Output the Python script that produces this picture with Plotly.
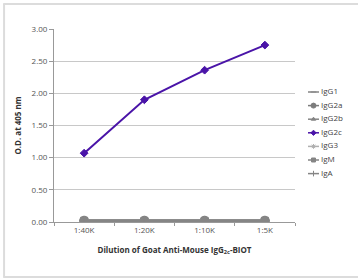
import plotly.graph_objects as go

categories = ["1:40K", "1:20K", "1:10K", "1:5K"]
igg2c = [1.07, 1.90, 2.36, 2.75]
igg1 = [0.02, 0.02, 0.02, 0.02]
igg2a = [0.02, 0.02, 0.02, 0.02]
igg2b = [0.02, 0.02, 0.02, 0.02]
igg3 = [0.02, 0.02, 0.02, 0.02]
igm = [0.02, 0.02, 0.02, 0.02]
iga = [0.02, 0.02, 0.02, 0.02]
series_names = ["IgG1", "IgG2a", "IgG2b", "IgG2c", "IgG3", "IgM", "IgA"]
y_ticks = [0, 0.5, 1.0, 1.5, 2.0, 2.5, 3.0]

gray = "#858585"
purple = "#4a14a8"

values = [igg1, igg2a, igg2b, igg2c, igg3, igm, iga]
styles = {
    "IgG1": (gray, "line-ew-open", 7),
    "IgG2a": ("#7c7c7c", "circle", 9),
    "IgG2b": (gray, "triangle-up", 7),
    "IgG2c": (purple, "diamond", 6),
    "IgG3": ("#b0b0b0", "asterisk-open", 6),
    "IgM": (gray, "square", 7),
    "IgA": (gray, "line-ns-open", 6),
}

fig = go.Figure()
# main plot: gray series first, IgG2c on top
draw_order = [n for n in series_names if n != "IgG2c"] + ["IgG2c"]
for name in draw_order:
    vals = values[series_names.index(name)]
    col, sym, sz = styles[name]
    fig.add_trace(go.Scatter(
        x=categories, y=vals, name=name, mode="lines+markers",
        line=dict(color=col, width=2 if name == "IgG2c" else 2.5),
        marker=dict(symbol=sym, size=sz, color=col, line=dict(color=col, width=1)),
        showlegend=False, xaxis="x", yaxis="y",
    ))

# custom compact legend on a helper axis (units ~ pixels)
for i, name in enumerate(series_names):
    col, sym, sz = styles[name]
    yy = 63 + 13.6 * i
    fig.add_trace(go.Scatter(
        x=[8, 19], y=[yy, yy], mode="lines", line=dict(color=col, width=1.5),
        showlegend=False, hoverinfo="skip", xaxis="x2", yaxis="y2",
    ))
    fig.add_trace(go.Scatter(
        x=[13.5], y=[yy], mode="markers",
        marker=dict(symbol=sym, size=max(sz - 4, 4), color=col, line=dict(color=col, width=1)),
        showlegend=False, hoverinfo="skip", xaxis="x2", yaxis="y2",
    ))
    fig.add_trace(go.Scatter(
        x=[21], y=[yy], mode="text", text=[name], textposition="middle right",
        textfont=dict(size=8, color="#444"),
        showlegend=False, hoverinfo="skip", xaxis="x2", yaxis="y2",
    ))

W, H = 358, 278
ml, mr, mt, mb = 54, 5, 29, 56
pw = W - ml - mr
main_right = 295

fig.update_layout(
    width=W, height=H,
    margin=dict(l=ml, r=mr, t=mt, b=mb),
    paper_bgcolor="white", plot_bgcolor="white",
    font=dict(family="Open Sans, sans-serif", size=8, color="#555"),
    showlegend=False,
    xaxis=dict(
        domain=[0, (main_right - ml) / pw],
        type="category", range=[-0.5, 3.5], automargin=False,
        showline=True, linecolor="#999", linewidth=1,
        ticks="outside", tickson="boundaries", ticklen=3, tickcolor="#999",
        showgrid=False, tickfont=dict(size=8, color="#555"),
        title=dict(text="<b>Dilution of Goat Anti-Mouse IgG<sub>2c</sub>-BIOT</b>",
                   font=dict(size=8, color="#333"), standoff=13),
    ),
    yaxis=dict(
        range=[0, 3.0], tickvals=y_ticks, tickformat=".2f", automargin=False,
        showline=True, linecolor="#999", linewidth=1,
        ticks="outside", ticklen=4, tickcolor="#999",
        showgrid=True, gridcolor="#c8c8c8", gridwidth=1,
        zeroline=False, tickfont=dict(size=8, color="#555"),
        title=dict(text="<b>O.D. at 405 nm</b>", font=dict(size=8, color="#333"), standoff=8),
    ),
    xaxis2=dict(
        domain=[(300 - ml) / pw, 1.0], range=[0, W - mr - 300], anchor="y2",
        visible=False, fixedrange=True,
    ),
    yaxis2=dict(
        domain=[0, 1], range=[H - mb - mt, 0], anchor="x2",
        visible=False, fixedrange=True,
    ),
    shapes=[
        dict(type="line", xref="paper", yref="paper", x0=-0.17, x1=1.1, y0=1.13, y1=1.13,
             line=dict(color="#dcdcdc", width=2)),
        dict(type="line", xref="paper", yref="paper", x0=-0.167, x1=-0.167, y0=1.13, y1=-0.285,
             line=dict(color="#dcdcdc", width=2)),
        dict(type="line", xref="paper", yref="paper", x0=-0.17, x1=1.1, y0=-0.285, y1=-0.285,
             line=dict(color="#dcdcdc", width=2)),
    ],
)

fig.write_html("out.html", config={"displayModeBar": False},
               post_script="document.body.style.margin='0';")
